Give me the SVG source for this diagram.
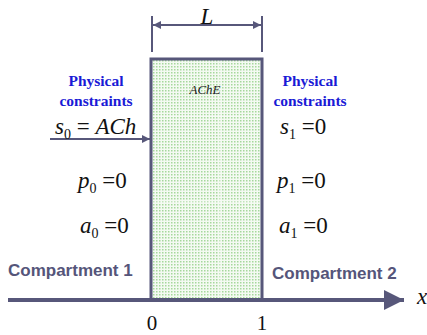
<svg xmlns="http://www.w3.org/2000/svg" width="427" height="335" viewBox="0 0 427 335">
<style>
.ln{stroke:#57577a;fill:none}
.pc{font-weight:bold;font-size:15.5px;fill:#1a1ad6;text-anchor:middle}
.eq{font-size:23px;fill:#111}
.it{font-style:italic}
.sub{font-size:14px}
.cmp{font-weight:bold;font-size:17px;fill:#55557a}
.num{font-size:21px;fill:#111;text-anchor:middle}
</style>
<defs>
<pattern id="dots" width="3" height="3" patternUnits="userSpaceOnUse">
<rect width="3" height="3" fill="#f4faf2"/>
<rect width="1.5" height="1.5" fill="#a6d89c"/>
</pattern>
<marker id="ah" viewBox="0 0 10 10" refX="10" refY="5" markerWidth="5" markerHeight="4" orient="auto-start-reverse" markerUnits="strokeWidth">
<path d="M0,0 L10,5 L0,10 z" fill="#57577a"/>
</marker>
<marker id="ah2" viewBox="0 0 10 10" refX="10" refY="5" markerWidth="8" markerHeight="5" orient="auto" markerUnits="strokeWidth">
<path d="M0,0 L10,5 L0,10 z" fill="#57577a"/>
</marker>
</defs>
<g id="membrane">
<rect x="151" y="59" width="111" height="241" fill="url(#dots)"/>
<line x1="151" y1="116" x2="262" y2="116" stroke="#fff" stroke-width="0.8" opacity="0.8"/>
<line x1="151" y1="202" x2="262" y2="202" stroke="#fff" stroke-width="0.8" opacity="0.8"/>
<line x1="220" y1="59" x2="220" y2="300" stroke="#fff" stroke-width="0.8" opacity="0.8"/>
<path class="ln" stroke-width="3" d="M151,300 V59 H262 V300"/>
<text x="205" y="94" font-family="'Liberation Serif', serif" font-style="italic" font-size="13" fill="#222" text-anchor="middle">AChE</text>
</g>
<g id="connectors">
<line class="ln" x1="152" y1="16" x2="152" y2="52" stroke-width="2"/>
<line class="ln" x1="262" y1="16" x2="262" y2="52" stroke-width="2"/>
<line class="ln" x1="153" y1="25" x2="261" y2="25" stroke-width="2" marker-start="url(#ah)" marker-end="url(#ah)"/>
<line class="ln" x1="50" y1="139" x2="150" y2="139" stroke-width="2" marker-end="url(#ah)"/>
<line class="ln" x1="8" y1="300" x2="404" y2="300" stroke-width="4" marker-end="url(#ah2)"/>
</g>
<g id="labels">
<text font-family="'Liberation Serif', serif" x="207" y="24" class="eq it" text-anchor="middle">L</text>
<text font-family="'Liberation Serif', serif" x="96" y="86" class="pc">Physical</text>
<text font-family="'Liberation Serif', serif" x="96" y="106" class="pc">constraints</text>
<text font-family="'Liberation Serif', serif" x="310" y="86" class="pc">Physical</text>
<text font-family="'Liberation Serif', serif" x="310" y="106" class="pc">constraints</text>
<text font-family="'Liberation Serif', serif" x="55" y="134" class="eq"><tspan class="it">s</tspan><tspan class="sub" dy="5">0</tspan><tspan dy="-5"> = </tspan><tspan class="it">ACh</tspan></text>
<text font-family="'Liberation Serif', serif" x="280" y="134" class="eq"><tspan class="it">s</tspan><tspan class="sub" dy="5">1</tspan><tspan dy="-5"> =0</tspan></text>
<text font-family="'Liberation Serif', serif" x="78" y="188" class="eq"><tspan class="it">p</tspan><tspan class="sub" dy="5">0</tspan><tspan dy="-5"> =0</tspan></text>
<text font-family="'Liberation Serif', serif" x="277" y="188" class="eq"><tspan class="it">p</tspan><tspan class="sub" dy="5">1</tspan><tspan dy="-5"> =0</tspan></text>
<text font-family="'Liberation Serif', serif" x="80" y="233" class="eq"><tspan class="it">a</tspan><tspan class="sub" dy="5">0</tspan><tspan dy="-5"> =0</tspan></text>
<text font-family="'Liberation Serif', serif" x="279" y="233" class="eq"><tspan class="it">a</tspan><tspan class="sub" dy="5">1</tspan><tspan dy="-5"> =0</tspan></text>
<text font-family="'Liberation Serif', serif" x="417" y="304" class="eq it">x</text>
<text font-family="'Liberation Serif', serif" x="152" y="330" class="num">0</text>
<text font-family="'Liberation Serif', serif" x="262" y="330" class="num">1</text>
</g>
<g id="compartments">
<text font-family="'Liberation Sans', Arial, sans-serif" x="8" y="276" class="cmp">Compartment 1</text>
<text font-family="'Liberation Sans', Arial, sans-serif" x="272" y="279" class="cmp">Compartment 2</text>
</g>
</svg>
